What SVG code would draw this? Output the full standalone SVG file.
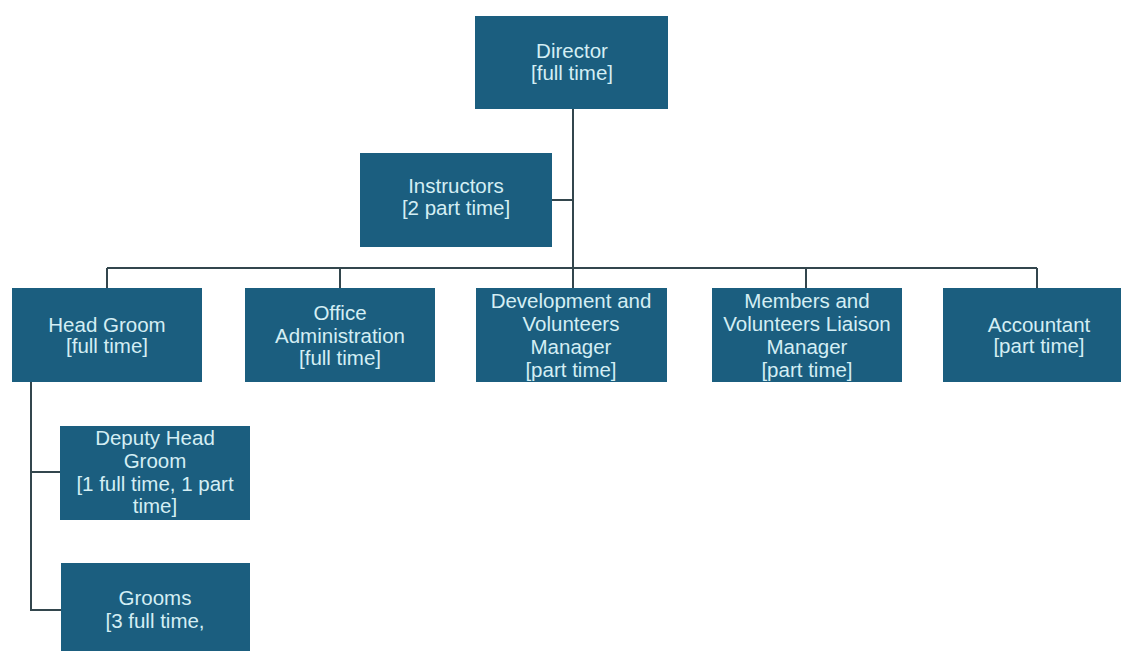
<svg xmlns="http://www.w3.org/2000/svg" width="1121" height="651" viewBox="0 0 1121 651">
<style>
.box{fill:#1b5e7f;}
.t{font-family:"Liberation Sans",Arial,sans-serif;font-size:20.5px;fill:#d4eef4;text-anchor:middle;}
.c{stroke:#33464d;stroke-width:2;fill:none;}
</style>
<rect width="1121" height="651" fill="#ffffff"/>
<g id="connectors">
<path class="c" d="M573 109V268"/>
<path class="c" d="M552 200H573"/>
<path class="c" d="M107 268H1037"/>
<path class="c" d="M107 268V288M340 268V288M573 268V288M806 268V288M1037 268V288"/>
<path class="c" d="M31 382V610H61M31 472H60"/>
</g>
<g id="director"><rect class="box" x="475" y="16" width="193" height="93"/><text class="t" x="572" y="58">Director</text><text class="t" x="572" y="80">[full time]</text></g>
<g id="instructors"><rect class="box" x="360" y="153" width="192" height="94"/><text class="t" x="456" y="193">Instructors</text><text class="t" x="456" y="215">[2 part time]</text></g>
<g id="head-groom"><rect class="box" x="12" y="288" width="190" height="94"/><text class="t" x="107" y="332">Head Groom</text><text class="t" x="107" y="353">[full time]</text></g>
<g id="office"><rect class="box" x="245" y="288" width="190" height="94"/><text class="t" x="340" y="320">Office</text><text class="t" x="340" y="343">Administration</text><text class="t" x="340" y="365">[full time]</text></g>
<g id="development"><rect class="box" x="476" y="288" width="191" height="94"/><text class="t" x="571" y="308">Development and</text><text class="t" x="571" y="331">Volunteers</text><text class="t" x="571" y="354">Manager</text><text class="t" x="571" y="377">[part time]</text></g>
<g id="members"><rect class="box" x="712" y="288" width="190" height="94"/><text class="t" x="807" y="308">Members and</text><text class="t" x="807" y="331">Volunteers Liaison</text><text class="t" x="807" y="354">Manager</text><text class="t" x="807" y="377">[part time]</text></g>
<g id="accountant"><rect class="box" x="943" y="288" width="190" height="94"/><text class="t" x="1039" y="332">Accountant</text><text class="t" x="1039" y="353">[part time]</text></g>
<g id="deputy"><rect class="box" x="60" y="426" width="190" height="94"/><text class="t" x="155" y="445">Deputy Head</text><text class="t" x="155" y="468">Groom</text><text class="t" x="155" y="491">[1 full time, 1 part</text><text class="t" x="155" y="513">time]</text></g>
<g id="grooms"><rect class="box" x="61" y="563" width="189" height="94"/><text class="t" x="155" y="605">Grooms</text><text class="t" x="155" y="628">[3 full time,</text></g>
</svg>
